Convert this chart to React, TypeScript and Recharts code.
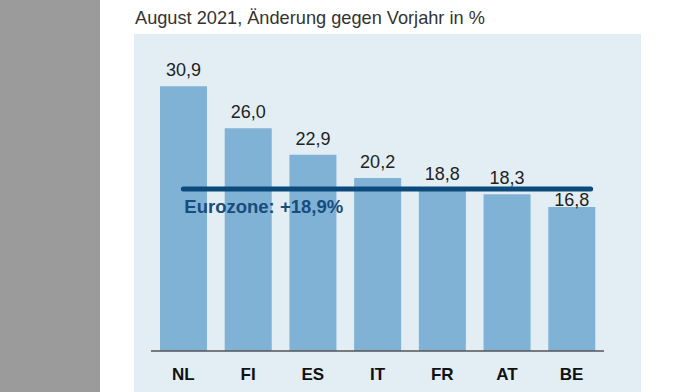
import { BarChart, Bar, XAxis, YAxis, LabelList, ReferenceLine } from 'recharts';

const countries = ['NL', 'FI', 'ES', 'IT', 'FR', 'AT', 'BE'];
const changes = [30.9, 26.0, 22.9, 20.2, 18.8, 18.3, 16.8];
const eurozone = 18.9;
const title = 'August 2021, Änderung gegen Vorjahr in %';

const data = countries.map((c, i) => ({ country: c, value: changes[i] }));

const fmt = (v: number) => v.toFixed(1).replace('.', ',');

function ValueLabel(props: any) {
  const { x, y, width, height, value } = props;
  // where the eurozone line sits, in pixels
  const lineY = y + height - (eurozone * height) / value;
  let baseY = Math.min(y - 10, lineY - 5);
  // bars well below the line get their label tucked under it
  if (y - lineY > 12) baseY = y - 1;
  return (
    <text x={x + width / 2} y={baseY} textAnchor="middle" fill="#222" fontSize={18} fontFamily="Liberation Sans, Arial, sans-serif">
      {fmt(value)}
    </text>
  );
}

function EuroLine(props: any) {
  const { x1, y1, x2, y2 } = props;
  return (
    <g>
      <line x1={x1} y1={y1} x2={x2 + 19} y2={y2} stroke="#0d4a7c" strokeWidth={5} strokeLinecap="round" />
      <text x={x1 + 1} y={y1 + 24} fill="#184c7c" fontSize={18.5} fontWeight="bold" fontFamily="Liberation Sans, Arial, sans-serif">
        {'Eurozone: +' + fmt(eurozone) + '%'}
      </text>
    </g>
  );
}

export default function App() {
  return (
    <div style={{ position: 'absolute', left: 0, top: 0, width: 675, height: 392, background: '#fff', overflow: 'hidden' }}>
      <div style={{ position: 'absolute', left: 0, top: 0, width: 100, height: 392, background: '#9b9b9b' }} />
      <div style={{ position: 'absolute', left: 134, top: 34, width: 507, height: 358, background: '#e2eef4' }} />
      <div style={{ position: 'absolute', left: 135, top: 8, fontSize: 18.2, color: '#333', fontFamily: 'Liberation Sans, Arial, sans-serif', whiteSpace: 'nowrap' }}>
        {title}
      </div>
      <div style={{ position: 'absolute', left: 0, top: 0 }}>
        <BarChart width={675} height={392} data={data} margin={{ top: 34, right: 71, left: 151, bottom: 0 }}>
          <XAxis
            dataKey="country"
            height={41}
            tickLine={false}
            tickMargin={11}
            axisLine={{ stroke: '#555', strokeWidth: 1.5 }}
            tick={{ fill: '#111', fontSize: 17, fontWeight: 'bold', fontFamily: 'Liberation Sans, Arial, sans-serif' }}
          />
          <YAxis hide domain={[0, 37]} />
          <Bar dataKey="value" fill="#7fb2d5" barSize={47} isAnimationActive={false}>
            <LabelList dataKey="value" content={<ValueLabel />} />
          </Bar>
          <ReferenceLine
            segment={[{ x: 'NL', y: eurozone }, { x: 'BE', y: eurozone }]}
            shape={<EuroLine />}
          />
        </BarChart>
      </div>
    </div>
  );
}
